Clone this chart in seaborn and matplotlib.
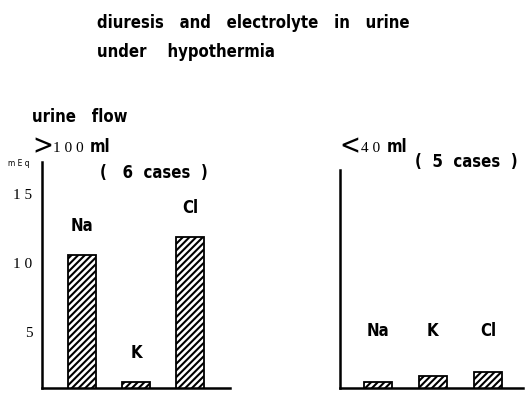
import pandas as pd
import matplotlib
matplotlib.use("Agg")
import matplotlib.pyplot as plt
import seaborn as sns

# data (mEq)
ions = ["Na", "K", "Cl"]
high_flow = [10.6, 1.4, 11.9]   # >100 ml, 6 cases
low_flow = [1.4, 1.8, 2.1]      # <40 ml, 5 cases
yticks = [5, 10, 15]

sns.set_style("white")
plt.rcParams["font.family"] = ["DejaVu Sans"]
plt.rcParams["font.stretch"] = "condensed"
plt.rcParams["text.color"] = "black"
plt.rcParams["hatch.linewidth"] = 1.5

W, H = 526, 400
fig = plt.figure(figsize=(W / 100, H / 100), dpi=100)


def px_axes(x0, x1, y_top, y_bot):
    return fig.add_axes([x0 / W, 1 - y_bot / H, (x1 - x0) / W, (y_bot - y_top) / H])


def draw_panel(ax, values, xlim, ylim):
    df = pd.DataFrame({"ion": ions, "mEq": values})
    sns.barplot(data=df, x="ion", y="mEq", ax=ax, color="white",
                edgecolor="black", linewidth=1.3, width=0.52)
    for p in ax.patches:
        p.set_hatch("/////")
    ax.set_xlim(*xlim)
    ax.set_ylim(*ylim)
    ax.set_xlabel("")
    ax.set_ylabel("")
    ax.set_xticks([])
    for s in ["top", "right"]:
        ax.spines[s].set_visible(False)
    for s in ["left", "bottom"]:
        ax.spines[s].set_linewidth(1.8)
        ax.spines[s].set_color("black")
    ax.patch.set_alpha(0)


lab = dict(fontsize=12, fontweight="bold", fontstretch="condensed", color="black")

# left panel: >100 ml
ax1 = px_axes(42, 230, 162, 388)
draw_panel(ax1, high_flow, (-0.74, 2.74), (0.95, 17.3))
ax1.set_yticks(yticks)
ax1.set_yticklabels([" ".join(str(t)) for t in yticks], family="Liberation Serif",
                    fontsize=11, color="black")
ax1.tick_params(axis="y", length=0, pad=7)
for i, (name, v) in enumerate(zip(ions, high_flow)):
    ax1.text(i, v + 2.1, name, ha="center", va="center", **lab)

# right panel: <40 ml
ax2 = px_axes(340, 523, 170, 388)
draw_panel(ax2, low_flow, (-0.69, 2.64), (0.95, 16.7))
ax2.set_yticks([])
for i, name in enumerate(ions):
    ax2.text(i, 5.1, name, ha="center", va="center", **lab)

# titles and annotations
big = dict(fontsize=12, fontweight="bold", fontstretch="condensed", va="center")
fig.text(97 / W, 1 - 23 / H, "diuresis   and   electrolyte   in   urine", **big)
fig.text(97 / W, 1 - 52 / H, "under    hypothermia", **big)
fig.text(32 / W, 1 - 117 / H, "urine   flow", **big)
fig.text(32 / W, 1 - 146 / H, ">", fontsize=20, va="center", family="DejaVu Sans")
fig.text(53 / W, 1 - 148 / H, "1 0 0", fontsize=11, va="center", family="Liberation Serif")
fig.text(90 / W, 1 - 147 / H, "ml", **big)
fig.text(8 / W, 1 - 163 / H, "m E q", fontsize=6, va="center", family="DejaVu Sans")
fig.text(100 / W, 1 - 173 / H, "(   6  cases  )", **big)
fig.text(339 / W, 1 - 146 / H, "<", fontsize=20, va="center", family="DejaVu Sans")
fig.text(361 / W, 1 - 148 / H, "4 0", fontsize=11, va="center", family="Liberation Serif")
fig.text(387 / W, 1 - 147 / H, "ml", **big)
fig.text(415 / W, 1 - 162 / H, "(  5  cases  )", **big)

fig.savefig("out.png", dpi=100)
